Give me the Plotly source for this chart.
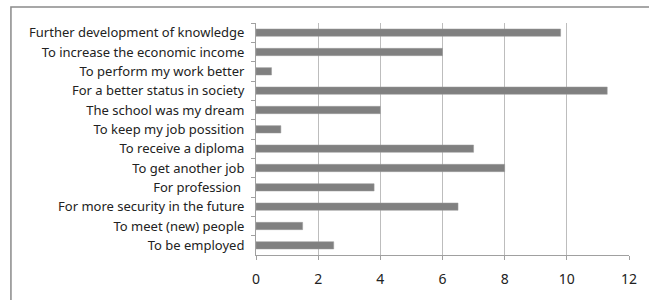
import plotly.graph_objects as go

categories = [
    "Further development of knowledge",
    "To increase the economic income",
    "To perform my work better",
    "For a better status in society",
    "The school was my dream",
    "To keep my job possition",
    "To receive a diploma",
    "To get another job",
    "For profession ",
    "For more security in the future",
    "To meet (new) people",
    "To be employed",
]
values = [9.8, 6.0, 0.5, 11.3, 4.0, 0.8, 7.0, 8.0, 3.8, 6.5, 1.5, 2.5]
x_ticks = [0, 2, 4, 6, 8, 10, 12]

fig = go.Figure(go.Bar(
    x=values, y=categories, orientation="h",
    marker=dict(color="#808080", line=dict(color="#9a9a9a", width=0.5)),
    width=0.38,
))

fig.update_layout(
    width=649, height=300,
    margin=dict(l=256, r=14, t=23, b=44),
    paper_bgcolor="white", plot_bgcolor="white",
    font=dict(family="Noto Sans", size=13, color="#222"),
    showlegend=False,
    xaxis=dict(
        range=[0, 12], tickvals=x_ticks, showgrid=True, gridcolor="#bdbdbd", gridwidth=1,
        zeroline=False, showline=True, linecolor="#a0a0a0", linewidth=1,
        ticks="outside", ticklen=4, tickcolor="#a0a0a0", ticklabelstandoff=7,
        tickfont=dict(size=14, color="#222"),
    ),
    yaxis=dict(
        categoryorder="array", categoryarray=categories, autorange="reversed",
        showline=True, linecolor="#a0a0a0", linewidth=1,
        ticks="outside", ticklen=4, tickcolor="#a0a0a0", tickson="boundaries",
        showgrid=False, ticklabelstandoff=8,
        tickfont=dict(size=13, color="#222"),
    ),
    shapes=[dict(type="rect", xref="paper", yref="paper",
                 x0=-0.657, y0=-0.4, x1=1.2, y1=1.069,
                 line=dict(color="#8a8a8a", width=1.5), fillcolor="rgba(0,0,0,0)", layer="below")],
)

fig.write_html("out.html", config={"displayModeBar": False},
               post_script="document.body.style.margin='0';document.body.style.overflow='hidden';")
